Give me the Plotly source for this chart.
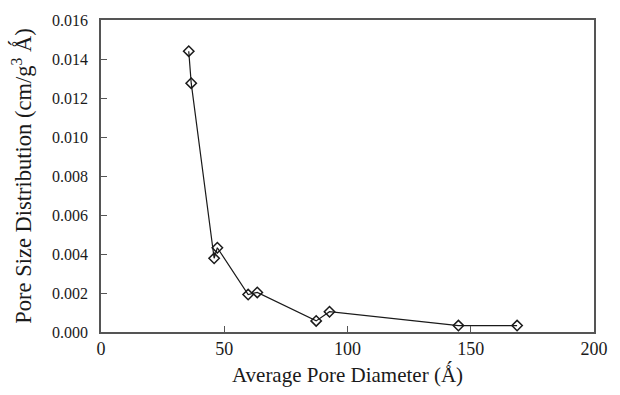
import plotly.graph_objects as go

# Average pore diameter (Å) and pore size distribution (cm/g^3 Å)
diameter = [35.6, 36.6, 45.9, 47.2, 59.7, 63.4, 87.3, 92.7, 145.0, 168.8]
distribution = [0.01440, 0.01276, 0.00378, 0.00432, 0.00192, 0.00203,
                0.00057, 0.00104, 0.00033, 0.00033]

x_ticks = [0, 50, 100, 150, 200]
y_ticks = [0.000, 0.002, 0.004, 0.006, 0.008, 0.010, 0.012, 0.014, 0.016]

serif = "Liberation Serif"
ink = "#1a1a1a"

fig = go.Figure(
    go.Scatter(
        x=diameter,
        y=distribution,
        mode="lines+markers",
        line=dict(color=ink, width=1.2),
        marker=dict(symbol="diamond-open", size=8, color=ink,
                    line=dict(width=1.5, color=ink)),
        showlegend=False,
    )
)

axis_common = dict(
    showgrid=False,
    zeroline=False,
    showline=True,
    linecolor="#555555",
    linewidth=1.5,
    mirror=True,
    ticks="inside",
    ticklen=6,
    tickwidth=1.2,
    tickcolor="#555555",
)

fig.update_xaxes(
    range=[0, 200],
    tickvals=x_ticks,
    ticktext=[str(v) for v in x_ticks],
    tickfont=dict(family=serif, size=18, color=ink),
    ticklabelstandoff=0,
    title=dict(text="Average Pore Diameter (Å\u0301)",
               font=dict(family=serif, size=21, color=ink),
               standoff=9),
    **axis_common,
)
fig.update_yaxes(
    range=[0, 0.016],
    tickvals=y_ticks,
    ticktext=[f"{v:.3f}" for v in y_ticks],
    tickfont=dict(family=serif, size=16, color=ink),
    ticklabelstandoff=8,
    title=dict(text="Pore Size Distribution (cm/g<sup>3</sup> Å\u0301)",
               font=dict(family=serif, size=22.5, color=ink),
               standoff=14),
    **axis_common,
)

fig.update_layout(
    width=620,
    height=395,
    margin=dict(l=101, r=13, t=19, b=52),
    paper_bgcolor="white",
    plot_bgcolor="white",
)

fig.write_html("out.html")
